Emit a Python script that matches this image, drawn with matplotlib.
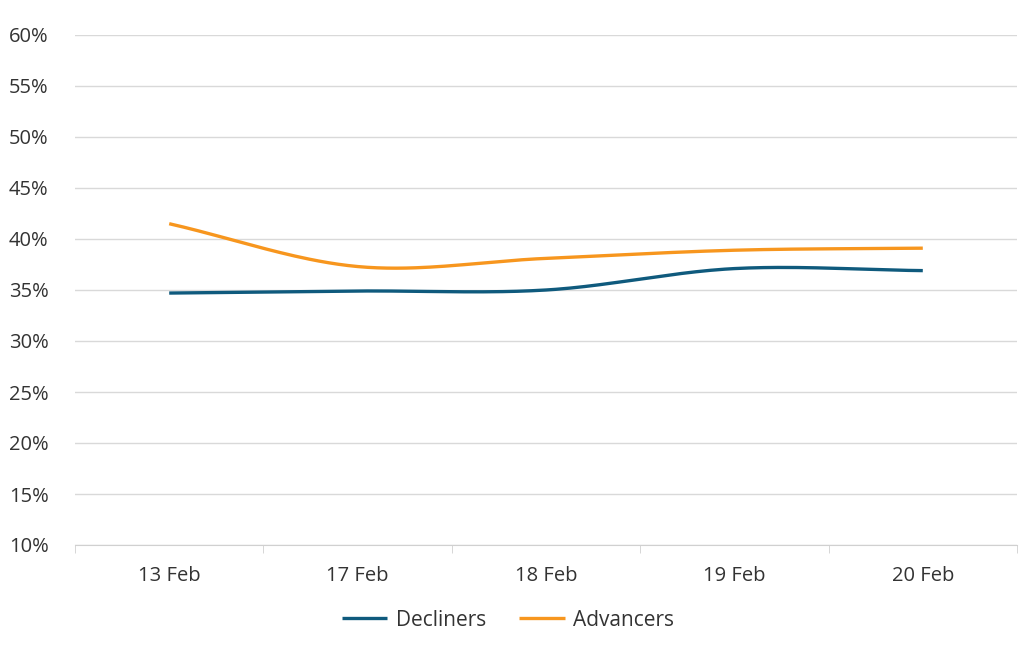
import matplotlib
matplotlib.use("Agg")
from matplotlib import pyplot
import numpy

# Data
dates = ["13 Feb", "17 Feb", "18 Feb", "19 Feb", "20 Feb"]
decliners = [34.7, 34.9, 35.0, 37.1, 36.9]
advancers = [41.5, 37.3, 38.1, 38.9, 39.1]

colors = {"Decliners": "#0f5a7d", "Advancers": "#f7961e"}
textColor = "#333333"

pyplot.rcParams["font.family"] = ["Open Sans", "DejaVu Sans"]


def smooth(x, y, steps=40):
    # Catmull-Rom curve through the points, like a spreadsheet "smoothed line"
    x = numpy.asarray(x, dtype=float)
    y = numpy.asarray(y, dtype=float)
    px = numpy.concatenate([[2 * x[0] - x[1]], x, [2 * x[-1] - x[-2]]])
    py = numpy.concatenate([[2 * y[0] - y[1]], y, [2 * y[-1] - y[-2]]])
    outX, outY = [], []
    t = numpy.linspace(0, 1, steps)
    for i in range(1, len(px) - 2):
        for p, out in ((px, outX), (py, outY)):
            p0, p1, p2, p3 = p[i - 1], p[i], p[i + 1], p[i + 2]
            c1 = p1 + (p2 - p0) / 6
            c2 = p2 - (p3 - p1) / 6
            out.extend((1 - t) ** 3 * p1 + 3 * (1 - t) ** 2 * t * c1 + 3 * (1 - t) * t ** 2 * c2 + t ** 3 * p2)
    return outX, outY


figure = pyplot.figure(figsize=(10.24, 6.47), dpi=100)
axis = figure.add_axes([75 / 1024, 1 - 545 / 647, (1017 - 75) / 1024, (545 - 35) / 647])

x = numpy.arange(len(dates))
for name, values in (("Decliners", decliners), ("Advancers", advancers)):
    sx, sy = smooth(x, values)
    axis.plot(sx, sy, color=colors[name], linewidth=2.4, label=name, solid_capstyle="butt")

axis.set_xlim(-0.5, len(dates) - 0.5)
axis.set_ylim(10, 60)
axis.set_yticks(numpy.arange(10, 61, 5))
axis.set_yticklabels([f"{v}%" for v in range(10, 61, 5)])
axis.set_xticks(x)
axis.set_xticklabels(dates)
axis.set_xticks(numpy.arange(-0.5, len(dates), 1), minor=True)

axis.grid(True, axis="y", color="#d9d9d9", linewidth=1)
axis.set_axisbelow(True)
for side in ("top", "right", "left"):
    axis.spines[side].set_visible(False)
axis.spines["bottom"].set_color("#d0d0d0")

axis.tick_params(axis="y", length=0, pad=19, labelsize=14.5, labelcolor=textColor)
axis.tick_params(axis="x", which="major", length=0, pad=15, labelsize=14.5, labelcolor=textColor)
axis.tick_params(axis="x", which="minor", length=6, color="#d0d0d0")

figure.legend(loc="center", bbox_to_anchor=(508 / 1024, 1 - 620 / 647), ncol=2, frameon=False,
              fontsize=15, labelcolor=textColor, handlelength=2.2, columnspacing=1.6, handletextpad=0.4)

pyplot.savefig("out.png", dpi=100)
